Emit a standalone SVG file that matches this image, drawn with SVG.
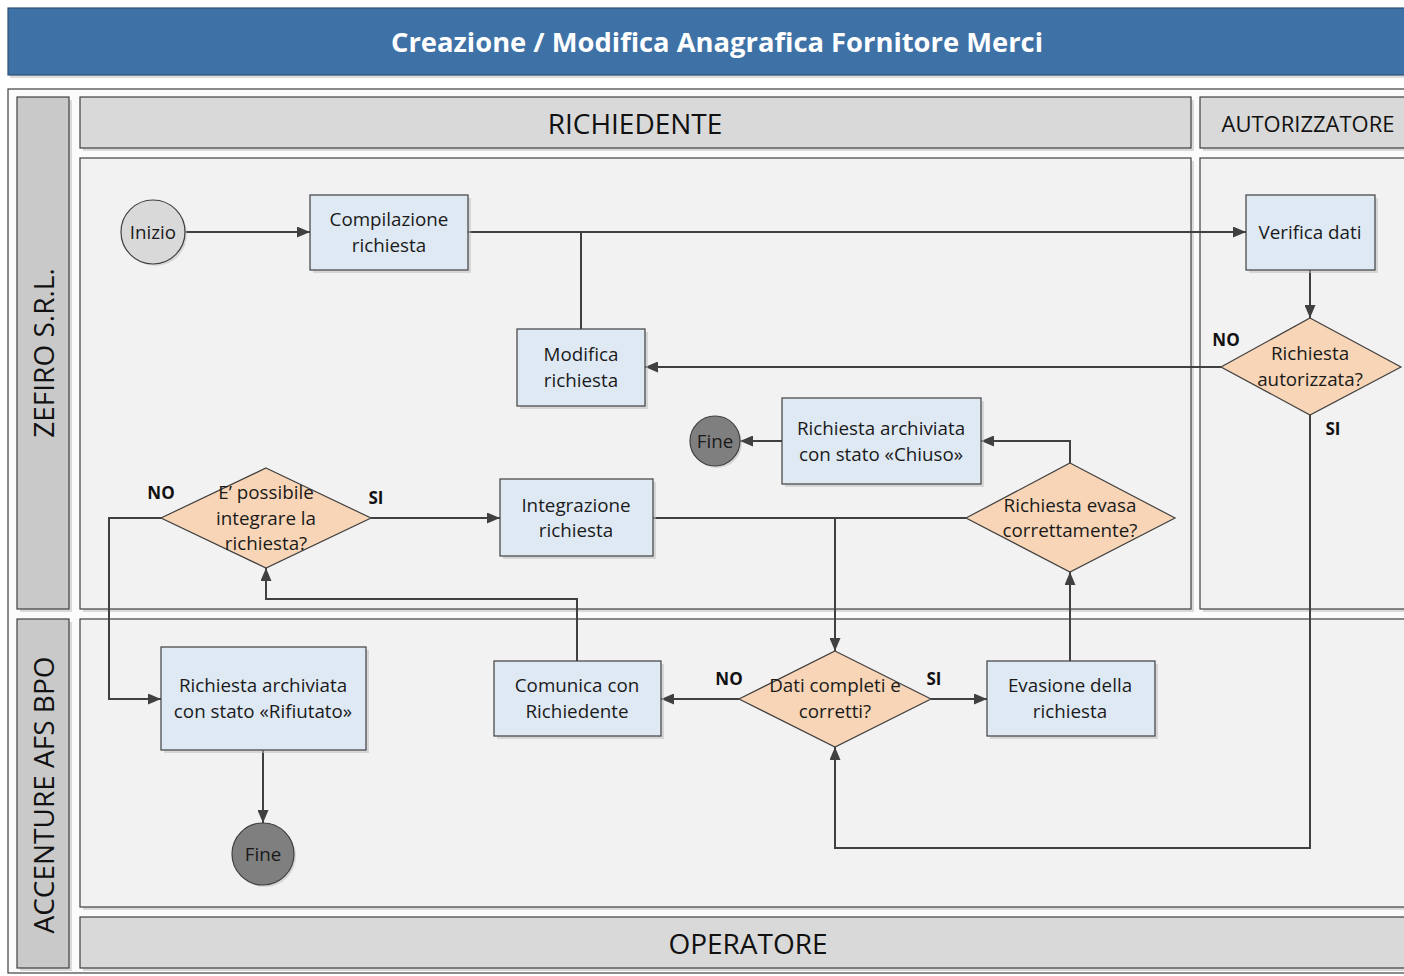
<svg xmlns="http://www.w3.org/2000/svg" width="1404" height="976" viewBox="0 0 1404 976">
<defs>
<style>
.t{font-family:"Open Sans","Noto Sans","Liberation Sans",sans-serif;font-size:18.8px;fill:#1a1a1a;text-anchor:middle;dominant-baseline:central}
.lbl{font-family:"Open Sans","Noto Sans","Liberation Sans",sans-serif;font-size:17px;font-weight:bold;fill:#111;text-anchor:middle;dominant-baseline:central}
.hdr{font-family:"Open Sans","Noto Sans","Liberation Sans",sans-serif;fill:#111;text-anchor:middle;dominant-baseline:central}
.box{fill:#dfe9f4;stroke:#404040;stroke-width:1.2}
.dia{fill:#f8d5b6;stroke:#404040;stroke-width:1.2}
.sh{fill:#bfbfbf;opacity:0.55}
.lane{fill:#f2f2f2;stroke:#404040;stroke-width:1.2}
.head{fill:#d9d9d9;stroke:#404040;stroke-width:1.2}
.side{fill:#c9c9c9;stroke:#404040;stroke-width:1.2}
.c{fill:none;stroke:#404040;stroke-width:2}
</style>
<marker id="ar" viewBox="0 0 13 11" refX="13" refY="5.5" markerWidth="13" markerHeight="11" markerUnits="userSpaceOnUse" orient="auto">
<path d="M0,0 L13,5.5 L0,11 z" fill="#404040"/>
</marker>
</defs>

<!-- background / title -->
<rect x="0" y="0" width="1404" height="976" fill="#ffffff"/>
<g id="title">
<rect x="10" y="11" width="1420" height="67" class="sh"/>
<rect x="8" y="8" width="1420" height="67" fill="#3e72a7" stroke="#2f4f73" stroke-width="1.2"/>
<text x="717" y="41" class="hdr" style="fill:#ffffff;font-weight:bold;font-size:27px" textLength="652" lengthAdjust="spacingAndGlyphs">Creazione / Modifica Anagrafica Fornitore Merci</text>
</g>

<!-- outer frame -->
<rect x="8" y="89" width="1420" height="884" fill="#fbfbfb" stroke="#404040" stroke-width="1.2"/>

<!-- lanes -->
<g id="lanes">
<rect x="20" y="100" width="52" height="512" class="sh"/>
<rect x="17" y="97" width="52" height="512" class="side"/>
<text class="hdr" style="font-size:28px" transform="translate(43,353) rotate(-90)">ZEFIRO S.R.L.</text>
<rect x="20" y="622" width="52" height="349" class="sh"/>
<rect x="17" y="619" width="52" height="349" class="side"/>
<text class="hdr" style="font-size:28px" transform="translate(43,795) rotate(-90)">ACCENTURE AFS BPO</text>

<rect x="83" y="100" width="1111" height="51" class="sh"/>
<rect x="80" y="97" width="1111" height="51" class="head"/>
<text x="635" y="123" class="hdr" style="font-size:28px">RICHIEDENTE</text>
<rect x="1203" y="100" width="216" height="51" class="sh"/>
<rect x="1200" y="97" width="216" height="51" class="head"/>
<text x="1308" y="123" class="hdr" style="font-size:22px">AUTORIZZATORE</text>

<rect x="83" y="161" width="1111" height="451" class="sh"/>
<rect x="80" y="158" width="1111" height="451" class="lane"/>
<rect x="1203" y="161" width="216" height="451" class="sh"/>
<rect x="1200" y="158" width="216" height="451" class="lane"/>

<rect x="83" y="622" width="1336" height="288" class="sh"/>
<rect x="80" y="619" width="1336" height="288" class="lane"/>

<rect x="83" y="920" width="1336" height="51" class="sh"/>
<rect x="80" y="917" width="1336" height="51" class="head"/>
<text x="748" y="943" class="hdr" style="font-size:28px">OPERATORE</text>
</g>

<!-- connectors -->
<g id="connectors">
<path class="c" d="M185,232 H310" marker-end="url(#ar)"/>
<path class="c" d="M468,232 H1246" marker-end="url(#ar)"/>
<path class="c" d="M581,329 V232"/>
<path class="c" d="M1310,270 V318" marker-end="url(#ar)"/>
<path class="c" d="M1221,367 H645" marker-end="url(#ar)"/>
<path class="c" d="M1310,415 V848 H835 V747" marker-end="url(#ar)"/>
<path class="c" d="M931,699 H987" marker-end="url(#ar)"/>
<path class="c" d="M739,699 H661" marker-end="url(#ar)"/>
<path class="c" d="M1070,661 V572" marker-end="url(#ar)"/>
<path class="c" d="M1070,463 V441 H981" marker-end="url(#ar)"/>
<path class="c" d="M782,441 H740" marker-end="url(#ar)"/>
<path class="c" d="M653,518 H966"/>
<path class="c" d="M835,518 V651" marker-end="url(#ar)"/>
<path class="c" d="M577,661 V599 H266 V568" marker-end="url(#ar)"/>
<path class="c" d="M371,518 H500" marker-end="url(#ar)"/>
<path class="c" d="M161,518 H109 V699 H161" marker-end="url(#ar)"/>
<path class="c" d="M263,750 V823" marker-end="url(#ar)"/>
<text x="1226" y="339" class="lbl">NO</text>
<text x="1333" y="428" class="lbl">SI</text>
<text x="376" y="497" class="lbl">SI</text>
<text x="161" y="492" class="lbl">NO</text>
<text x="729" y="678" class="lbl">NO</text>
<text x="934" y="678" class="lbl">SI</text>
</g>

<!-- nodes -->
<g id="inizio">
<circle cx="155" cy="234" r="32" class="sh"/>
<circle cx="153" cy="232" r="32" fill="#d9d9d9" stroke="#404040" stroke-width="1.2"/>
<text x="153" y="232" class="t">Inizio</text>
</g>
<g id="compilazione">
<rect x="313" y="198" width="158" height="75" class="sh"/>
<rect x="310" y="195" width="158" height="75" class="box"/>
<text x="389" y="219" class="t">Compilazione</text>
<text x="389" y="245" class="t">richiesta</text>
</g>
<g id="verifica">
<rect x="1249" y="198" width="129" height="75" class="sh"/>
<rect x="1246" y="195" width="129" height="75" class="box"/>
<text x="1310" y="232" class="t">Verifica dati</text>
</g>
<g id="autorizzata">
<polygon points="1310,318 1401,367 1310,415 1221,367" class="dia"/>
<text x="1310" y="353" class="t">Richiesta</text>
<text x="1310" y="379" class="t">autorizzata?</text>
</g>
<g id="modifica">
<rect x="520" y="332" width="128" height="77" class="sh"/>
<rect x="517" y="329" width="128" height="77" class="box"/>
<text x="581" y="354" class="t">Modifica</text>
<text x="581" y="380" class="t">richiesta</text>
</g>
<g id="fine1">
<circle cx="717" cy="443" r="25" class="sh"/>
<circle cx="715" cy="441" r="25" fill="#7f7f7f" stroke="#404040" stroke-width="1.2"/>
<text x="715" y="441" class="t">Fine</text>
</g>
<g id="chiuso">
<rect x="785" y="401" width="199" height="86" class="sh"/>
<rect x="782" y="398" width="199" height="86" class="box"/>
<text x="881" y="428" class="t">Richiesta archiviata</text>
<text x="881" y="454" class="t">con stato «Chiuso»</text>
</g>
<g id="evasa">
<polygon points="1070,463 1175,518 1070,572 966,518" class="dia"/>
<text x="1070" y="505" class="t">Richiesta evasa</text>
<text x="1070" y="530" class="t">correttamente?</text>
</g>
<g id="possibile">
<polygon points="266,468 371,518 266,568 161,518" class="dia"/>
<text x="266" y="492" class="t">E’ possibile</text>
<text x="266" y="518" class="t">integrare la</text>
<text x="266" y="543" class="t">richiesta?</text>
</g>
<g id="integrazione">
<rect x="503" y="482" width="153" height="77" class="sh"/>
<rect x="500" y="479" width="153" height="77" class="box"/>
<text x="576" y="505" class="t">Integrazione</text>
<text x="576" y="530" class="t">richiesta</text>
</g>
<g id="rifiutato">
<rect x="164" y="650" width="205" height="103" class="sh"/>
<rect x="161" y="647" width="205" height="103" class="box"/>
<text x="263" y="685" class="t">Richiesta archiviata</text>
<text x="263" y="711" class="t">con stato «Rifiutato»</text>
</g>
<g id="fine2">
<circle cx="265" cy="856" r="31" class="sh"/>
<circle cx="263" cy="854" r="31" fill="#7f7f7f" stroke="#404040" stroke-width="1.2"/>
<text x="263" y="854" class="t">Fine</text>
</g>
<g id="comunica">
<rect x="497" y="664" width="167" height="75" class="sh"/>
<rect x="494" y="661" width="167" height="75" class="box"/>
<text x="577" y="685" class="t">Comunica con</text>
<text x="577" y="711" class="t">Richiedente</text>
</g>
<g id="daticompleti">
<polygon points="835,651 931,699 835,747 739,699" class="dia"/>
<text x="835" y="685" class="t">Dati completi e</text>
<text x="835" y="711" class="t">corretti?</text>
</g>
<g id="evasione">
<rect x="990" y="664" width="168" height="75" class="sh"/>
<rect x="987" y="661" width="168" height="75" class="box"/>
<text x="1070" y="685" class="t">Evasione della</text>
<text x="1070" y="711" class="t">richiesta</text>
</g>
</svg>
